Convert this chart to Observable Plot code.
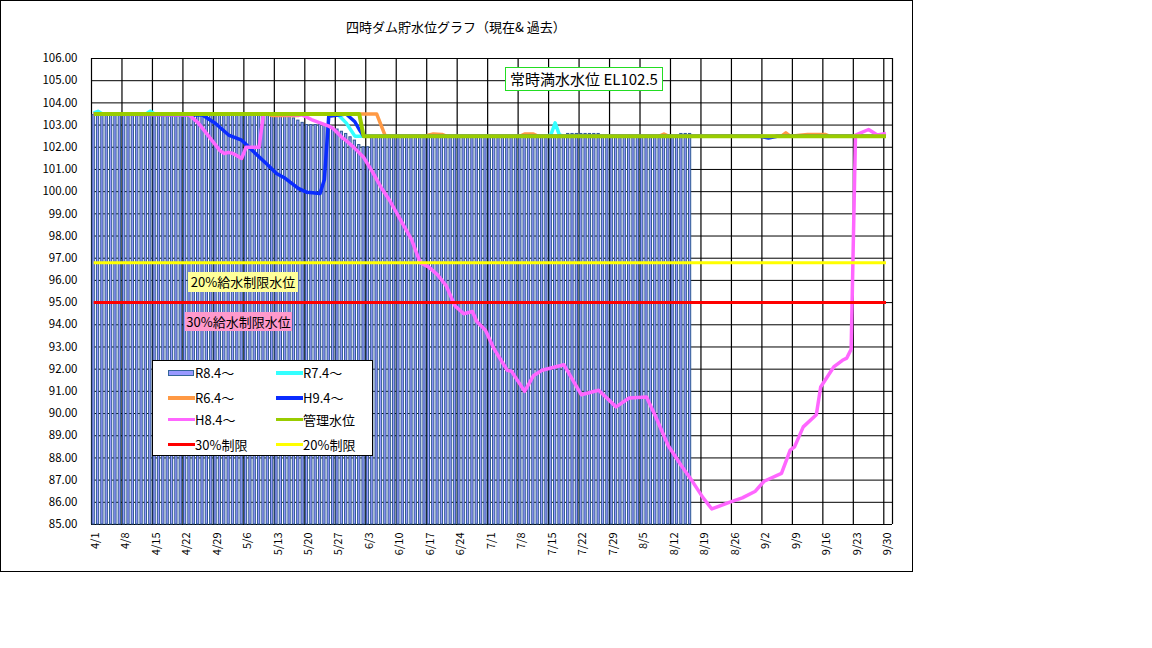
<!DOCTYPE html>
<html><head><meta charset="utf-8">
<script src="https://cdn.jsdelivr.net/npm/d3@7"></script>
<script src="https://cdn.jsdelivr.net/npm/@observablehq/plot@0.6"></script>
<style>
body{margin:0;background:#fff;font-family:"Noto Sans CJK JP",sans-serif;}
#wrap{position:relative;width:1152px;height:648px;overflow:hidden;}
#wrap svg{position:absolute;left:0;top:0;}
.abs{position:absolute;white-space:nowrap;}
#frame{left:0;top:0;width:911px;height:570px;border:1px solid #000;pointer-events:none;}
#title{left:0;top:18px;width:912px;text-align:center;font-size:13px;line-height:18px;color:#000;}
.note{box-sizing:border-box;text-align:center;color:#000;}
#legend{left:152px;top:360px;width:221px;height:96px;box-sizing:border-box;border:1px solid #000;background:#fff;}
.lt{font-size:13px;line-height:16px;color:#000;}
</style></head>
<body><div id="wrap"></div>
<script>
// ---- data ----
const yTicks = [85,86,87,88,89,90,91,92,93,94,95,96,97,98,99,100,101,102,103,104,105,106];
const xTickDays = [0,7,14,21,28,35,42,49,56,63,70,77,84,91,98,105,112,119,126,133,140,147,154,161,168,175,182];
const xTickLabels = ["4/1","4/8","4/15","4/22","4/29","5/6","5/13","5/20","5/27","6/3","6/10","6/17","6/24","7/1","7/8","7/15","7/22","7/29","8/5","8/12","8/19","8/26","9/2","9/9","9/16","9/23","9/30"];
const axisEndDay = 184;

// R8.4～ daily levels (bars), from 4/1
const r8Levels = [
 103.45,103.45,103.45,103.45,103.45,103.45,103.45,103.45,103.45,103.45,
 103.45,103.45,103.45,103.45,103.45,103.45,103.45,103.45,103.45,103.45,
 103.45,103.45,103.45,103.45,103.45,103.45,103.45,103.45,103.45,103.45,
 103.45,103.45,103.45,103.45,103.45,103.45,103.45,103.45,103.45,103.45,
 103.45,103.45,103.45,103.45,103.45,103.45,103.3,103.2,103.1,103.0,
 103.0,103.0,103.0,103.0,102.95,102.85,102.8,102.7,102.6,102.45,
 102.3,102.1,102.0,102.0,102.45,102.45,102.45,102.45,102.45,102.45,
 102.45,102.45,102.45,102.45,102.45,102.45,102.45,102.45,102.45,102.45,
 102.45,102.45,102.45,102.45,102.45,102.45,102.45,102.45,102.45,102.45,
 102.45,102.45,102.45,102.45,102.45,102.45,102.45,102.45,102.45,102.45,
 102.45,102.45,102.45,102.45,102.45,102.45,102.45,102.45,102.45,102.6,
 102.6,102.6,102.6,102.6,102.6,102.6,102.6,102.45,102.45,102.45,
 102.45,102.45,102.45,102.45,102.45,102.45,102.45,102.45,102.45,102.45,
 102.45,102.45,102.45,102.45,102.45,102.6,102.6,102.6
];

// R7.4～
const r7Days   = [0,1,2,12,13,14,56,58,59,60,104,105,106,107,108,182];
const r7Levels = [103.55,103.62,103.5,103.5,103.63,103.5,103.5,103.1,102.8,102.5,102.5,102.55,103.1,102.55,102.5,102.5];
// R6.4～
const r6Days   = [0,40,41,47,48,65,67,76,78,80,81,98,99,101,102,130,131,132,158,159,160,164,168,169,182];
const r6Levels = [103.5,103.5,103.43,103.43,103.5,103.5,102.5,102.5,102.6,102.58,102.5,102.5,102.6,102.6,102.5,102.5,102.6,102.5,102.5,102.65,102.5,102.58,102.58,102.5,102.5];
// H9.4～
const h9Days   = [0,25,28,31,34,37,40,42,44,47,49,52,53,54,58,60,61,62,153,155,157,182];
const h9Levels = [103.5,103.45,103.07,102.55,102.32,101.75,101.2,100.82,100.6,100.15,99.97,99.92,100.55,103.4,103.5,103.15,102.8,102.5,102.5,102.42,102.5,102.5];
// H8.4～
const h8Days   = [0,22,24,26,29,30,31,32,34,35,38,39,48,50,52,54,55,57,58,60,62,64,66,68,70,73,75,77,79,81,83,85,87,88,90,92,95,96,99,101,103,108,112,116,120,123,127,129,132,135,137,140,142,146,149,152,154,158,160,161,163,166,167,170,172,173,174,175,178,180,182];
const h8Levels = [103.5,103.45,103.1,102.6,101.85,101.72,101.77,101.72,101.5,102.0,102.0,103.5,103.45,103.25,103.1,102.95,102.85,102.45,102.3,101.95,101.55,100.9,100.2,99.6,98.9,97.85,96.8,96.6,96.25,95.75,94.85,94.5,94.6,94.15,93.75,92.9,91.95,91.9,91.0,91.7,91.95,92.2,90.85,91.05,90.3,90.7,90.75,89.9,88.55,87.65,87.1,86.2,85.7,86.0,86.2,86.5,86.95,87.3,88.35,88.5,89.4,89.95,91.2,92.1,92.4,92.5,92.9,102.55,102.8,102.55,102.62];
// 管理水位
const kanriDays   = [0,61,62,182];
const kanriLevels = [103.5,103.5,102.5,102.5];
// 30%制限 / 20%制限
const limit30Days = [0,182];
const limit30Levels = [95.0,95.0];
const limit20Days = [0,182];
const limit20Levels = [96.8,96.8];

const series = (days, levels) => days.map((d,i)=>({day:d, level:levels[i]}));
const lineMark = (days, levels, color, w) =>
  Plot.line(series(days, levels), {x: d=>d.day+0.5, y: "level", stroke: color, strokeWidth: w, strokeLinejoin:"round", strokeLinecap:"butt"});

const chart = Plot.plot({
  width: 1152, height: 648,
  marginLeft: 91, marginRight: 260, marginTop: 58, marginBottom: 124,
  x: {domain: [0, axisEndDay], axis: null},
  y: {domain: [85, 106], axis: null},
  style: {background: "transparent", fontFamily: '"Noto Sans CJK JP", sans-serif', fontSize: "11px", color: "#000"},
  marks: [
    Plot.ruleY(yTicks, {stroke: "#000", strokeWidth: 1}),
    Plot.ruleX(xTickDays.concat([axisEndDay]), {stroke: "#000", strokeWidth: 1.2}),
    Plot.rectY(r8Levels, {x1: (d,i)=>i, x2: (d,i)=>i+1, y1: 85, y2: d=>d, insetLeft: 1.05, insetRight: 1.05, fill: "#9999ff", stroke: "#2e5a94", strokeWidth: 1}),
    lineMark(r7Days, r7Levels, "#33ffff", 3.5),
    lineMark(r6Days, r6Levels, "#ff9944", 3.5),
    lineMark(h9Days, h9Levels, "#0a2cff", 3.5),
    lineMark(h8Days, h8Levels, "#ff66ff", 3.5),
    lineMark(kanriDays, kanriLevels, "#99cc00", 4),
    lineMark(limit30Days, limit30Levels, "#ff0000", 3),
    lineMark(limit20Days, limit20Levels, "#ffff00", 3),
    Plot.text(yTicks, {y: d=>d, frameAnchor: "left", dx: -14, textAnchor: "end", text: d=>d.toFixed(2), fontSize: 11.5, fill: "#000"}),
    Plot.text(xTickDays, {x: d=>d+0.5, frameAnchor: "bottom", dy: 8, dx: 1.5, rotate: -90, textAnchor: "end", lineAnchor: "middle", text: (d,i)=>xTickLabels[i], fontSize: 11, fill: "#000"})
  ]
});

const wrap = document.getElementById("wrap");
wrap.appendChild(chart);

function addDiv(id, cls, html, css){
  const el = document.createElement("div");
  if (id) el.id = id;
  el.className = "abs " + (cls||"");
  el.innerHTML = html;
  if (css) el.style.cssText += css;
  wrap.appendChild(el);
  return el;
}
addDiv("frame", "", "");
addDiv("title", "", "四時ダム貯水位グラフ（現在&amp; 過去）");
addDiv(null, "note", "常時満水水位 EL102.5", "left:505px;top:67px;width:158px;height:24px;border:1px solid #22dd22;background:#fff;font-size:15px;line-height:22px;");
addDiv(null, "note", "20%給水制限水位", "left:188px;top:272px;width:110px;height:20px;background:#ffff99;font-size:13px;line-height:20px;");
addDiv(null, "note", "30%給水制限水位", "left:185px;top:312px;width:107px;height:19px;background:#ff99cc;font-size:13px;line-height:19px;");

// legend
const legendNames = ["R8.4～","R7.4～","R6.4～","H9.4～","H8.4～","管理水位","30%制限","20%制限"];
const legendColors = ["#9999ff","#33ffff","#ff9944","#0a2cff","#ff66ff","#99cc00","#ff0000","#ffff00"];
const legend = addDiv("legend", "", "");
const rowY = [372, 397, 418.5, 443.5];
legendNames.forEach((name, i) => {
  const col = i % 2, row = Math.floor(i / 2);
  const sx = col === 0 ? 15 : 123;   // swatch left inside legend
  const cy = rowY[row] - 360;
  const sw = document.createElement("div");
  sw.className = "abs";
  if (i === 0) {
    sw.style.cssText = `left:${sx}px;top:${cy-3}px;width:26px;height:6px;box-sizing:border-box;background:#9999ff;border:1px solid #336699;`;
  } else {
    sw.style.cssText = `left:${sx}px;top:${cy-2}px;width:27px;height:3.5px;background:${legendColors[i]};`;
  }
  legend.appendChild(sw);
  const t = document.createElement("div");
  t.className = "abs lt";
  t.style.cssText = `left:${sx+27}px;top:${cy-8}px;`;
  t.textContent = name;
  legend.appendChild(t);
});
</script>
</body></html>
